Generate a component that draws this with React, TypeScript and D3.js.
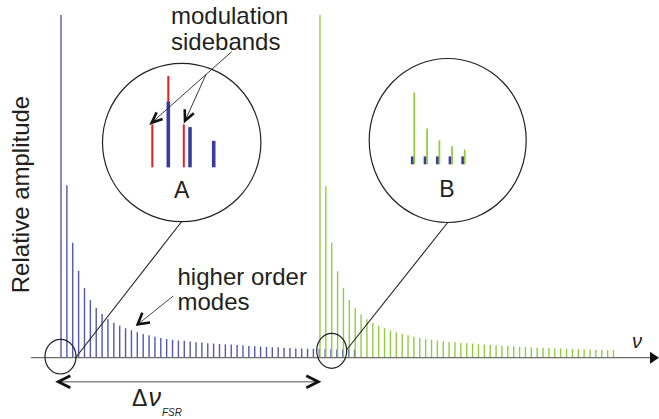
import React from "react";
import * as d3 from "d3";

const W = 659;
const H = 419;

// Relative amplitudes of the cavity modes (first order = 1)
const blueAmp = [
  1.0, 0.504, 0.336, 0.254, 0.204, 0.169, 0.146, 0.128, 0.114, 0.103,
  0.094, 0.087, 0.081, 0.075, 0.07, 0.066, 0.062, 0.058, 0.055, 0.053,
  0.051, 0.05, 0.048, 0.046, 0.045, 0.043, 0.042, 0.041, 0.04, 0.039,
  0.038, 0.037, 0.035, 0.034, 0.033, 0.032, 0.031, 0.031, 0.03, 0.029,
  0.028, 0.028, 0.027, 0.027, 0.026, 0.026, 0.026, 0.025, 0.025, 0.025,
  0.024,
];
const greenAmp = [
  1.0, 0.501, 0.336, 0.253, 0.204, 0.169, 0.145, 0.127, 0.113, 0.102,
  0.094, 0.087, 0.08, 0.075, 0.07, 0.066, 0.062, 0.058, 0.055, 0.053,
  0.051, 0.049, 0.047, 0.046, 0.044, 0.043, 0.042, 0.04, 0.039, 0.038,
  0.037, 0.036, 0.035, 0.034, 0.033, 0.032, 0.031, 0.03, 0.03, 0.029,
  0.028, 0.028, 0.027, 0.026, 0.026, 0.025, 0.025, 0.024, 0.024, 0.023,
  0.023,
];
const FSR = 44.12; // free spectral range in mode spacings

// Inset A: modes (blue) and modulation sidebands (red)
const insetAModePos = [0, 0.956, 2.0];
const insetAModeAmp = [0.72, 0.44, 0.29];
const insetASidePos = [-0.705, 0, 0.683];
const insetASideAmp = [0.47, 1.0, 0.47];

// Inset B: green modes over small blue modes
const insetBPos = [0, 1, 1.96, 2.95, 3.94];
const insetBGreen = [1.0, 0.498, 0.335, 0.251, 0.205];
const insetBBlue = [0.11, 0.11, 0.11, 0.11, 0.11];
const insetBBlueShift = -0.15;

const FONT = "'Liberation Sans', Arial, Helvetica, sans-serif";
const TXT = "#231f20";

function chevron(tx: number, ty: number, fx: number, fy: number, len: number, ang: number) {
  const a = Math.atan2(fy - ty, fx - tx);
  const p1 = [tx + len * Math.cos(a + ang), ty + len * Math.sin(a + ang)];
  const p2 = [tx + len * Math.cos(a - ang), ty + len * Math.sin(a - ang)];
  return `M${p1[0]},${p1[1]}L${tx},${ty}L${p2[0]},${p2[1]}`;
}

export default function App() {
  const x = d3.scaleLinear().domain([0, 100]).range([61, 648]);
  const y = d3.scaleLinear().domain([0, 1]).range([358, 15]);

  const ax = d3.scaleLinear().domain([0, 1]).range([168.3, 191]);
  const ay = d3.scaleLinear().domain([0, 1]).range([167.3, 76]);

  const bx = d3.scaleLinear().domain([0, 1]).range([414.3, 427.1]);
  const by = d3.scaleLinear().domain([0, 1]).range([164.3, 92.6]);

  const blue = "#5656b2";
  const green = "#96ca42";
  const red = "#ed1c24";
  const insetBlue = "#3b3b9b";

  return (
    <svg
      width={W}
      height={H}
      viewBox={`0 0 ${W} ${H}`}
      style={{ position: "fixed", left: 0, top: 0, background: "#fff" }}
    >
      <rect x={0} y={0} width={W} height={H} fill="#fff" />

      {/* main spectrum bars */}
      <g>
        {blueAmp.map((v, i) => (
          <line
            key={"b" + i}
            x1={x(i)}
            x2={x(i)}
            y1={y(0)}
            y2={y(v)}
            stroke={blue}
            strokeWidth={1.4}
          />
        ))}
        {greenAmp.map((v, i) => (
          <line
            key={"g" + i}
            x1={x(FSR + i)}
            x2={x(FSR + i)}
            y1={y(0)}
            y2={y(v)}
            stroke={green}
            strokeWidth={1.4}
          />
        ))}
      </g>

      {/* frequency axis */}
      <line x1={31} x2={652} y1={357.7} y2={357.7} stroke="#6d6d6d" strokeWidth={1.3} />
      <path d="M650,351.7L659,357.7L650,363.7Z" fill="#111" />
      <text x={632} y={348} fontFamily={FONT} fontStyle="italic" fontSize={20} fill={TXT}>
        ν
      </text>

      {/* y label */}
      <text
        transform="translate(28.5,194.5) rotate(-90)"
        textAnchor="middle"
        fontFamily={FONT}
        fontSize={24}
        fill={TXT}
      >
        Relative amplitude
      </text>

      {/* FSR double arrow */}
      <line x1={59} x2={317.5} y1={381.7} y2={381.7} stroke="#8a8a8a" strokeWidth={1.5} />
      <path d={chevron(58.3, 381.7, 80, 381.7, 13.4, 0.46)} fill="none" stroke="#111" strokeWidth={2.8} />
      <path d={chevron(318.3, 381.7, 300, 381.7, 13.4, 0.46)} fill="none" stroke="#111" strokeWidth={2.8} />
      <text x={132} y={405.7} fontFamily={FONT} fontSize={23} fill={TXT}>
        Δ<tspan fontStyle="italic" fontSize={25} dx={1}>ν</tspan>
        <tspan fontStyle="italic" fontSize={10} dy={10} dx={1}>FSR</tspan>
      </text>

      {/* zoom ellipses */}
      <ellipse cx={60.5} cy={356.7} rx={15.5} ry={17.3} fill="none" stroke="#222" strokeWidth={1.2} />
      <ellipse cx={331.7} cy={350.8} rx={15} ry={17.5} fill="none" stroke="#222" strokeWidth={1.2} />
      <line x1={181.7} y1={221.5} x2={75.8} y2={357.5} stroke="#222" strokeWidth={1.1} />
      <line x1={447.7} y1={222.5} x2={346.5} y2={350} stroke="#222" strokeWidth={1.1} />

      {/* inset A */}
      <circle cx={181.7} cy={142.5} r={79.2} fill="#fff" stroke="#222" strokeWidth={1.2} />
      {insetASidePos.map((p, i) => (
        <line
          key={"ra" + i}
          x1={ax(p)}
          x2={ax(p)}
          y1={ay(0)}
          y2={ay(insetASideAmp[i])}
          stroke={red}
          strokeWidth={2}
        />
      ))}
      {insetAModePos.map((p, i) => (
        <line
          key={"ba" + i}
          x1={ax(p)}
          x2={ax(p)}
          y1={ay(0)}
          y2={ay(insetAModeAmp[i])}
          stroke={insetBlue}
          strokeWidth={3.6}
        />
      ))}
      <text x={181.7} y={197.5} textAnchor="middle" fontFamily={FONT} fontSize={23} fill={TXT}>
        A
      </text>

      {/* inset B */}
      <ellipse cx={447.7} cy={140.5} rx={78.5} ry={82} fill="#fff" stroke="#222" strokeWidth={1.2} />
      {insetBPos.map((p, i) => (
        <line
          key={"bb" + i}
          x1={bx(p + insetBBlueShift)}
          x2={bx(p + insetBBlueShift)}
          y1={by(0)}
          y2={by(insetBBlue[i])}
          stroke={insetBlue}
          strokeWidth={3}
        />
      ))}
      {insetBPos.map((p, i) => (
        <line
          key={"gb" + i}
          x1={bx(p)}
          x2={bx(p)}
          y1={by(0)}
          y2={by(insetBGreen[i])}
          stroke={green}
          strokeWidth={1.8}
        />
      ))}
      <text x={447} y={196.7} textAnchor="middle" fontFamily={FONT} fontSize={23} fill={TXT}>
        B
      </text>

      {/* modulation sidebands annotation */}
      <text x={171} y={23.5} fontFamily={FONT} fontSize={24} fill={TXT}>
        modulation
      </text>
      <text x={171} y={50} fontFamily={FONT} fontSize={24} fill={TXT}>
        sidebands
      </text>
      <line x1={231.7} y1={51.7} x2={152.5} y2={122} stroke="#222" strokeWidth={0.9} />
      <line x1={206} y1={74.5} x2={185.5} y2={119.8} stroke="#222" strokeWidth={0.9} />
      <path d={chevron(151.7, 122.7, 231.7, 51.7, 11.5, 0.4)} fill="none" stroke="#111" strokeWidth={2.6} strokeLinejoin="miter" />
      <path d={chevron(185, 120.7, 206, 74.5, 11.5, 0.45)} fill="none" stroke="#111" strokeWidth={2.6} strokeLinejoin="miter" />

      {/* higher order modes annotation */}
      <text x={177.5} y={285} fontFamily={FONT} fontSize={24} fill={TXT}>
        higher order
      </text>
      <text x={177.5} y={309.5} fontFamily={FONT} fontSize={24} fill={TXT}>
        modes
      </text>
      <line x1={173.3} y1={296} x2={138.5} y2={323.7} stroke="#333" strokeWidth={0.9} />
      <path d={chevron(137.7, 324.3, 173.3, 296, 12.5, 0.52)} fill="none" stroke="#111" strokeWidth={2.6} strokeLinejoin="miter" />
    </svg>
  );
}
